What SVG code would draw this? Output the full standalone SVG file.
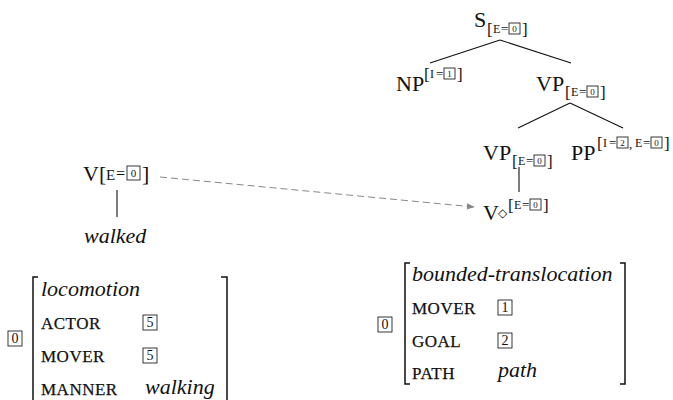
<svg xmlns="http://www.w3.org/2000/svg" width="673" height="400" viewBox="0 0 673 400">
  <defs>
    <style>
      text { font-family: "Liberation Serif", "DejaVu Serif", serif; fill: #111; }
      .cat { font-size: 22px; }
      .br { font-size: 17px; }
      .sc { font-size: 12px; }
      .eq { font-size: 13px; }
      .tagd { font-size: 9px; text-anchor: middle; }
      .box { fill: none; stroke: #222; stroke-width: 0.9; }
      .it { font-family: "Liberation Serif", serif; font-size: 22px; font-style: italic; }
      .feat { font-size: 17px; letter-spacing: 0.5px; stroke: #111; stroke-width: 0.25px; }
      .num { font-size: 14px; text-anchor: middle; }
      .edge { stroke: #111; stroke-width: 1.1; fill: none; }
      .avm { stroke: #111; stroke-width: 1.5; fill: none; }
      .link { stroke: #888; stroke-width: 1; stroke-dasharray: 7 4; fill: none; }
    </style>
    <marker id="arrow" viewBox="0 0 10 10" refX="9" refY="5" markerWidth="8" markerHeight="8" orient="auto" markerUnits="userSpaceOnUse">
      <path d="M0,1 L10,5 L0,9 z" fill="#888"/>
    </marker>
    <!-- feature annotation [E=0] -->
    <g id="featE0">
      <text class="br" x="0" y="0">[</text>
      <text class="sc" x="6" y="-2">E</text>
      <text class="eq" x="14" y="-2">=</text>
      <rect class="box" x="22" y="-12" width="11" height="11"/>
      <text class="tagd" x="27.5" y="-3.5">0</text>
      <text class="br" x="35" y="0">]</text>
    </g>
  </defs>

  <!-- tree edges -->
  <g id="connectors">
    <path class="edge" d="M500,40 L430,63"/>
    <path class="edge" d="M500,40 L571,63"/>
    <path class="edge" d="M570,103 L518,128"/>
    <path class="edge" d="M570,103 L623,128"/>
    <path class="edge" d="M519,167 L519,192"/>
    <path class="edge" d="M117,190 L117,217"/>
    <path class="link" d="M160,177 L474,207" marker-end="url(#arrow)"/>
  </g>

  <g id="S">
    <text class="cat" x="474" y="27">S</text>
    <use href="#featE0" x="487" y="35"/>
  </g>

  <g id="NP">
    <text class="cat" x="396" y="91">NP</text>
    <g transform="translate(424,80)">
      <text class="br" x="0" y="0">[</text>
      <text class="sc" x="6" y="-2">I</text>
      <text class="eq" x="12" y="-2">=</text>
      <rect class="box" x="20" y="-12" width="11" height="11"/>
      <text class="tagd" x="25.5" y="-3.5">1</text>
      <text class="br" x="33" y="0">]</text>
    </g>
  </g>

  <g id="VP-top">
    <text class="cat" x="536" y="91">VP</text>
    <use href="#featE0" x="565" y="98"/>
  </g>

  <g id="VP-low">
    <text class="cat" x="483" y="160">VP</text>
    <use href="#featE0" x="512" y="167"/>
  </g>

  <g id="PP">
    <text class="cat" x="571" y="160">PP</text>
    <g transform="translate(597,149)">
      <text class="br" x="0" y="0">[</text>
      <text class="sc" x="6" y="-2">I</text>
      <text class="eq" x="12" y="-2">=</text>
      <rect class="box" x="20" y="-12" width="11" height="11"/>
      <text class="tagd" x="25.5" y="-3.5">2</text>
      <text class="eq" x="32" y="-1">,</text>
      <text class="sc" x="38" y="-2">E</text>
      <text class="eq" x="46" y="-2">=</text>
      <rect class="box" x="54" y="-12" width="11" height="11"/>
      <text class="tagd" x="59.5" y="-3.5">0</text>
      <text class="br" x="67" y="0">]</text>
    </g>
  </g>

  <g id="V-diamond">
    <text class="cat" x="483" y="220">V</text>
    <text x="498" y="217" style="font-family: 'DejaVu Sans', sans-serif; font-size: 12px;">◇</text>
    <use href="#featE0" x="508" y="211"/>
  </g>

  <g id="V-walked">
    <text class="cat" x="83" y="181">V</text>
    <text class="cat" x="99" y="181">[</text>
    <text x="106" y="180" style="font-size: 15px;">E</text>
    <text x="116" y="179" style="font-size: 16px;">=</text>
    <rect class="box" x="127" y="166" width="13" height="14"/>
    <text x="133.5" y="177" style="font-size: 11px; text-anchor: middle;">0</text>
    <text class="cat" x="142" y="181">]</text>
  </g>

  <g id="walked">
    <text class="it" x="84" y="243">walked</text>
  </g>

  <!-- locomotion frame -->
  <g id="avm-locomotion">
    <rect class="box" x="8" y="331" width="14" height="15"/>
    <text class="num" x="15" y="343">0</text>
    <path class="avm" d="M38,277 H33 V400"/>
    <path class="avm" d="M221,277 H227 V400"/>
    <text class="it" x="41" y="296">locomotion</text>
    <text class="feat" x="41" y="329">ACTOR</text>
    <rect class="box" x="143" y="315" width="14" height="15"/>
    <text class="num" x="150" y="327">5</text>
    <text class="feat" x="41" y="362">MOVER</text>
    <rect class="box" x="143" y="348" width="14" height="15"/>
    <text class="num" x="150" y="360">5</text>
    <text class="feat" x="41" y="395">MANNER</text>
    <text class="it" x="145" y="394">walking</text>
  </g>

  <!-- bounded-translocation frame -->
  <g id="avm-translocation">
    <rect class="box" x="378" y="317" width="14" height="15"/>
    <text class="num" x="385" y="329">0</text>
    <path class="avm" d="M410,263 H405 V384 H410"/>
    <path class="avm" d="M620,263 H625 V384 H620"/>
    <text class="it" x="412" y="281">bounded-translocation</text>
    <text class="feat" x="412" y="314">MOVER</text>
    <rect class="box" x="498" y="300" width="14" height="15"/>
    <text class="num" x="505" y="312">1</text>
    <text class="feat" x="412" y="347">GOAL</text>
    <rect class="box" x="498" y="333" width="14" height="15"/>
    <text class="num" x="505" y="345">2</text>
    <text class="feat" x="412" y="379">PATH</text>
    <text class="it" x="498" y="377">path</text>
  </g>
</svg>
